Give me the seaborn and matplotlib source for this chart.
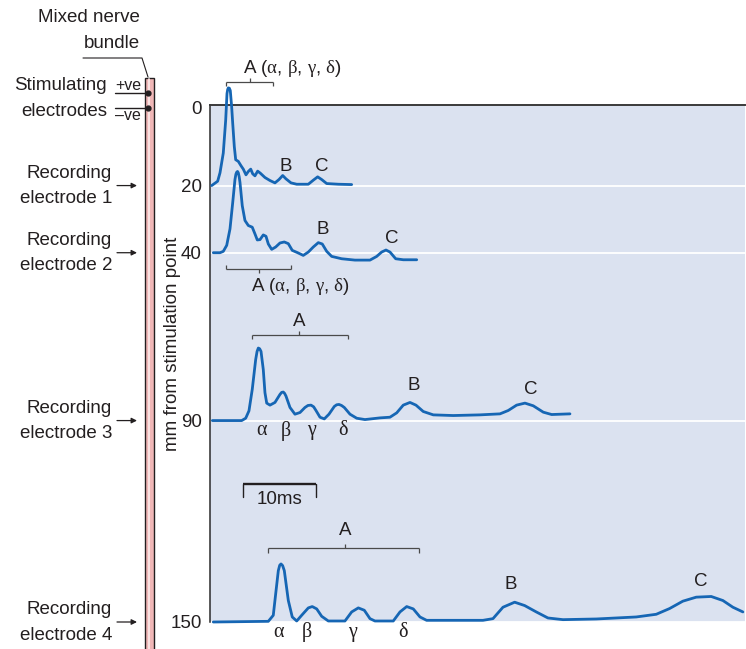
"""
混合神经干复合动作电位示意图：刺激点不同距离处记录的 A/B/C 纤维波形
"""

import matplotlib
matplotlib.use('Agg')
import matplotlib.pyplot as plt
import seaborn as sns
import pandas as pd
from matplotlib.patches import Rectangle
from matplotlib.transforms import blended_transform_factory, ScaledTranslation

# 记录电极与距刺激点距离 (mm)
electrodes = ['1', '2', '3', '4']
distance_mm = [20, 40, 90, 150]
ytick_mm = [0, 20, 40, 90, 150]

# 各电极记录的波形：时间 (ms) 与向上偏转幅度（按纵轴 mm 单位计）
t1 = [0.23, 1.05, 1.37, 1.82, 2.15, 2.33, 2.42, 2.51, 2.65, 2.78, 2.97, 3.11, 3.33,
      3.52, 3.88, 4.25, 4.56, 4.93, 5.25, 5.58, 5.85, 6.16, 6.53, 6.89, 7.53, 8.22,
      8.90, 9.45, 9.96, 10.41, 11.10, 11.88, 13.47, 14.15, 14.75, 15.30, 15.99,
      17.58, 19.41]
a1 = [0, 1.3, 3.8, 9.7, 19.5, 27.4, 28.6, 29.1, 29.0, 28.3, 23.4, 18.6, 11.6,
      7.7, 7.2, 5.9, 4.9, 3.2, 4.2, 4.9, 3.5, 2.9, 4.3, 3.7, 2.4, 1.5,
      0.8, 1.8, 3.0, 2.0, 0.8, 0.4, 0.4, 1.6, 2.6, 1.8, 0.6,
      0.4, 0.3]

t2 = [0.45, 1.37, 1.82, 2.29, 2.74, 3.11, 3.42, 3.55, 3.66, 3.77, 3.88, 4.00, 4.11,
      4.42, 4.79, 5.25, 5.79, 6.16, 6.48, 6.85, 7.30, 7.67, 7.99, 8.45, 9.00, 9.59,
      10.18, 10.73, 11.27, 12.01, 12.78, 13.47, 14.15, 14.84, 15.38, 15.99, 16.67,
      18.04, 19.86, 21.92, 22.84, 23.52, 24.11, 24.66, 25.44, 26.48, 28.32]
a2 = [0, 0, 0.4, 2.2, 7.1, 14.9, 21.8, 23.4, 24.0, 24.2, 23.8, 22.6, 20.9,
      14.0, 9.6, 8.1, 7.6, 5.6, 3.8, 3.9, 5.3, 4.9, 2.6, 1.0, 1.7, 2.9,
      3.2, 2.7, 0.7, 0, -0.8, 0.2, 1.7, 3.0, 2.6, 0.4, -1.1,
      -1.8, -2.2, -2.2, -1.1, 0.2, 0.8, 0.2, -1.8, -2.1, -2.1]

t3 = [0.32, 4.34, 4.89, 5.34, 5.79, 6.26, 6.45, 6.62, 6.80, 6.99, 7.30, 7.53, 7.77,
      8.22, 8.90, 9.59, 9.82, 10.04, 10.22, 10.41, 10.96, 11.64, 12.33, 13.01, 13.42,
      13.84, 14.20, 14.52, 15.07, 15.66, 16.30, 17.03, 17.35, 17.67, 18.02, 18.40,
      19.18, 20.10, 21.23, 23.29, 24.66, 25.58, 26.48, 27.40, 28.22, 29.22, 30.59,
      33.33, 36.99, 39.73, 40.86, 42.01, 43.15, 44.29, 45.66, 46.81, 49.32]
a3 = [0, 0, 0.7, 2.9, 9.3, 18.2, 20.6, 21.6, 21.4, 20.6, 15.2, 8.3, 5.2,
      4.6, 5.4, 7.8, 8.4, 8.5, 8.1, 7.3, 3.9, 1.9, 2.4, 3.9, 4.5,
      4.6, 4.1, 3.0, 1.0, 0.5, 1.9, 4.2, 4.7, 4.8, 4.5, 3.9,
      1.9, 0.7, 0.3, 0.8, 1.0, 2.3, 4.6, 5.4, 4.6, 2.7, 1.7,
      1.5, 1.7, 2.0, 3.0, 4.6, 5.2, 4.4, 2.5, 1.8, 2.0]

t4 = [0.45, 7.99, 8.67, 9.00, 9.36, 9.55, 9.73, 9.95, 10.18, 10.73, 11.27, 11.88,
      12.56, 13.47, 14.01, 14.62, 15.30, 16.21, 18.49, 19.41, 20.32, 21.14, 21.92,
      22.60, 25.11, 26.03, 26.95, 27.85, 28.77, 29.68, 37.40, 38.77, 40.14, 41.74,
      43.11, 44.70, 46.30, 48.36, 52.93, 58.40, 61.14, 62.96, 64.78, 66.62, 68.67,
      70.27, 71.64, 73.01]
a4 = [0, 0.2, 2.0, 8.4, 15.3, 16.9, 17.3, 16.8, 15.3, 6.4, 1.5, 0.3,
      2.0, 4.2, 4.6, 3.9, 1.7, 0.3, 0.3, 3.0, 4.2, 3.5, 1.0,
      0.3, 0.3, 3.0, 4.6, 3.9, 1.5, 0.5, 0.5, 1.0, 4.4, 5.9,
      4.9, 3.0, 1.2, 0.7, 0.9, 1.5, 2.3, 4.0, 6.2, 7.4, 7.6,
      6.4, 4.4, 3.0]

times = [t1, t2, t3, t4]
amps = [a1, a2, a3, a4]

# 峰值字母标注 (字母, 时间 ms, 距基线高度)
peak_labels = [
    [('B', 10.4, 5.8), ('C', 15.3, 5.8)],
    [('B', 15.5, 7.0), ('C', 24.9, 4.3)],
    [('B', 27.85, 10.3), ('C', 43.9, 9.3)],
    [('B', 41.2, 11.3), ('C', 67.3, 12.0)],
]
greek = ['α', 'β', 'γ', 'δ']
greek_t3 = [7.03, 10.41, 13.97, 18.18]
greek_t4 = [9.45, 13.33, 19.55, 26.48]

BG = '#dbe2f0'
TRACE = '#1666b4'
INK = '#231f20'
GREY = '#4a4a4a'

sns.set_style('white')
plt.rcParams['font.family'] = ['Liberation Sans', 'DejaVu Sans']
plt.rcParams['mathtext.fontset'] = 'custom'
plt.rcParams['mathtext.rm'] = 'Liberation Sans'
plt.rcParams['mathtext.it'] = 'Liberation Serif'
plt.rcParams['mathtext.bf'] = 'Liberation Sans:bold'
FS = 13.5

fig = plt.figure(figsize=(7.46, 6.49), dpi=100)
# 左侧示意图用像素坐标
axd = fig.add_axes([0, 0, 1, 1])
axd.set_xlim(0, 746)
axd.set_ylim(649, 0)
axd.axis('off')

ax = fig.add_axes([210 / 746, 27 / 649, 535 / 746, 517 / 649])
ax.set_facecolor(BG)

rows = []
for name, base, t, a in zip(electrodes, distance_mm, times, amps):
    for ti, ai in zip(t, a):
        rows.append((name, ti, base - ai))
df = pd.DataFrame(rows, columns=['electrode', 'time', 'mm'])

for base in distance_mm:
    ax.axhline(base, color='white', lw=1.3, zorder=1)

sns.lineplot(data=df, x='time', y='mm', units='electrode', estimator=None,
             color=TRACE, lw=2.0, ax=ax, zorder=3)
for line in ax.lines:
    line.set_clip_on(False)
    line.set_solid_joinstyle('round')

ax.set_xlim(0, 73.3)
ax.set_ylim(150, -4)
ax.set_xlabel('')
ax.set_ylabel('')
ax.set_xticks([])
ax.set_yticks(ytick_mm)
ax.set_yticklabels([str(v) for v in ytick_mm])
ax.tick_params(axis='y', length=0, pad=6, labelsize=FS, labelcolor=INK)
# "0" 标签贴近顶边（与原图一致）
lab0 = ax.get_yticklabels()[0]
lab0.set_transform(lab0.get_transform() + ScaledTranslation(0, 8 / 72, fig.dpi_scale_trans))
sns.despine(ax=ax, top=False, right=True, left=False, bottom=True)
ax.spines['top'].set_color('#3a3a3a')
ax.spines['top'].set_linewidth(1.4)
ax.spines['left'].set_color('#2b2b2b')
ax.spines['left'].set_linewidth(1.1)

ax.text(-0.071, 0.538, 'mm from stimulation point', transform=ax.transAxes,
        rotation=90, ha='center', va='center', fontsize=FS, color=INK)

# B / C 标注
for base, labs in zip(distance_mm, peak_labels):
    for s, x, h in labs:
        ax.text(x, base - h, s, ha='center', va='center', fontsize=FS, color=INK)

# α β γ δ 标注
for xs, base in [(greek_t3, 90), (greek_t4, 150)]:
    for s, x in zip(greek, xs):
        ax.text(x, base + 3.0, s, ha='center', va='center', fontsize=14.5,
                family='Liberation Serif', color=INK, clip_on=False)


def bracket(x0, x1, y, end, xc, mid):
    kw = dict(color=GREY, lw=0.9, clip_on=False, solid_capstyle='butt')
    ax.plot([x0, x1], [y, y], **kw)
    ax.plot([x0, x0], [y, y + end], **kw)
    ax.plot([x1, x1], [y, y + end], **kw)
    ax.plot([xc, xc], [y, y + mid], **kw)


A_LABEL = r'A ($\alpha$, $\beta$, $\gamma$, $\delta$)'
bracket(2.19, 8.67, -10.76, 1.1, 5.48, -1.3)
ax.text(4.52, -15.0, A_LABEL, ha='left', va='center', fontsize=FS, color=INK, clip_on=False)
bracket(2.19, 11.10, 44.85, -1.2, 6.75, 1.2)
ax.text(5.6, 50.2, A_LABEL, ha='left', va='center', fontsize=FS, color=INK)
bracket(5.71, 18.86, 64.5, 1.3, 12.23, -1.3)
ax.text(12.2, 60.6, 'A', ha='center', va='center', fontsize=FS, color=INK)
bracket(7.99, 28.67, 128.0, 1.3, 18.53, -1.3)
ax.text(18.5, 122.8, 'A', ha='center', va='center', fontsize=FS, color=INK)

# 10 ms 比例尺
ax.plot([4.56, 14.52], [108.9, 108.9], color=INK, lw=1.7, solid_capstyle='butt')
ax.plot([4.56, 4.56], [108.9, 112.7], color=INK, lw=1.0)
ax.plot([14.52, 14.52], [108.9, 112.7], color=INK, lw=1.0)
ax.text(9.5, 113.4, '10ms', ha='center', va='center', fontsize=FS, color=INK)

# 左侧：神经干与电极
axd.text(140, 18, 'Mixed nerve', ha='right', va='center', fontsize=FS, color=INK)
axd.text(140, 43.5, 'bundle', ha='right', va='center', fontsize=FS, color=INK)
axd.plot([83, 142, 148], [58, 58, 77], color=INK, lw=0.8)
axd.add_patch(Rectangle((144.5, 78), 9, 600, fc='#f0b7b7', ec=INK, lw=1.0))
axd.plot([149, 149], [79, 649], color='#fbe6e6', lw=1.3)

axd.plot([115, 148], [93, 93], color=INK, lw=1.0)
axd.plot([115, 148], [108, 108], color=INK, lw=1.0)
axd.plot([148.3, 148.3], [93, 108], 'o', ms=3.5, color=INK)
axd.text(128, 85.5, '+ve', ha='center', va='center', fontsize=11.5, color=INK)
axd.text(128, 115.5, '\u2013ve', ha='center', va='center', fontsize=11.5, color=INK)
axd.text(107, 86, 'Stimulating', ha='right', va='center', fontsize=FS, color=INK)
axd.text(107, 112, 'electrodes', ha='right', va='center', fontsize=FS, color=INK)

trans = blended_transform_factory(axd.transData, ax.transData)
for name, base in zip(electrodes, distance_mm):
    axd.annotate('Recording', xy=(112, base), xycoords=trans, xytext=(0, 9),
                 textcoords='offset points', ha='right', va='center', fontsize=FS, color=INK)
    axd.annotate(f'electrode {name}', xy=(112, base), xycoords=trans, xytext=(0, -9.5),
                 textcoords='offset points', ha='right', va='center', fontsize=FS, color=INK)
    axd.annotate('', xy=(137, base), xycoords=trans, xytext=(117, base), textcoords=trans,
                 arrowprops=dict(arrowstyle='-|>', color=INK, lw=0.9, mutation_scale=8,
                                 shrinkA=0, shrinkB=0))

fig.savefig('out.png', dpi=100)
